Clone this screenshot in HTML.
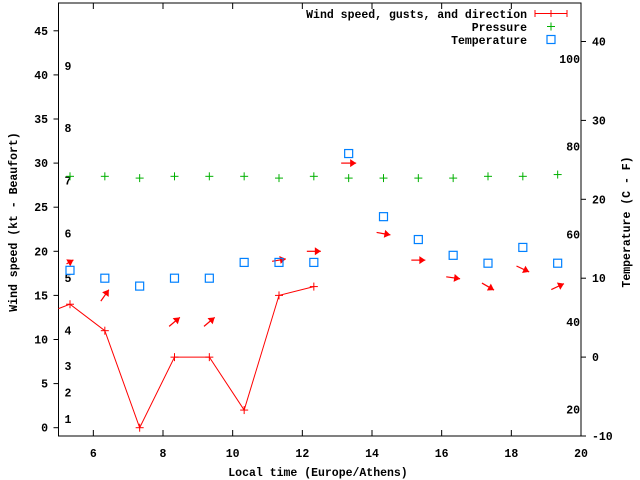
<!DOCTYPE html>
<html><head><meta charset="utf-8"><style>
body{margin:0;background:#fff}
svg{display:block}
text{font-family:"Liberation Mono",monospace;font-weight:bold;font-size:11.5px;fill:#000}
</style></head><body>
<svg id="c" width="640" height="480" xmlns="http://www.w3.org/2000/svg"></svg>
<script>
const times=[5.33,6.33,7.33,8.33,9.33,10.33,11.33,12.33,13.33,14.33,15.33,16.33,17.33,18.33,19.33];
const windSpeed=[14,11,0,8,8,2,15,16];
const windStart=13.5;
const pressure=[28.5,28.5,28.3,28.5,28.5,28.5,28.3,28.5,28.3,28.3,28.3,28.3,28.5,28.5,28.7];
const temperature=[11,10,9,10,10,12,12,12,25.8,17.8,14.9,12.9,11.9,13.9,11.9];
const gust=[18.8,15,null,12,12,null,19,20,30,22,19,17,16,18,16];
const windDir=[30,55,null,40,40,null,10,0,0,-10,0,-8,-30,-25,25];
const arrowLen=[8,14,0,14,14,0,14,14,15,14,14,14,14,14,14];
const xTicks=[6,8,10,12,14,16,18,20];
const yTicks=[0,5,10,15,20,25,30,35,40,45];
const y2Ticks=[-10,0,10,20,30,40];
const beaufortLabels=["1","2","3","4","5","6","7","8","9"];
const beaufortKt=[1,4,7,11,17,22,28,34,41];
const fLabels=[100,80,60,40,20];

const L=58.5,R=581,T=3,B=436;
const X=v=>L+(v-5)*(R-L)/15;
const Y=v=>427.7-v*8.82;
const Y2=v=>436-(v+10)*7.89;
const svg=document.getElementById('c');
const NS='http://www.w3.org/2000/svg';
function mk(tag,attrs,parent){const e=document.createElementNS(NS,tag);for(const k in attrs)e.setAttribute(k,attrs[k]);(parent||svg).appendChild(e);return e;}
function txt(x,y,s,anchor){const t=mk('text',{x:x,y:y,'text-anchor':anchor||'start'});t.textContent=s;return t;}

// frame
const fr=mk('rect',{x:L,y:T,width:R-L,height:B-T,fill:'none',stroke:'#000','stroke-width':1});



xTicks.forEach(v=>{
  const x=X(v);
  mk('line',{x1:x,y1:T,x2:x,y2:T+6,stroke:'#000'});
  mk('line',{x1:x,y1:B,x2:x,y2:B-6,stroke:'#000'});
  const t=txt(x,457,String(v),'middle');
  
  
});
yTicks.forEach(v=>{
  const y=Y(v);
  mk('line',{x1:L-5,y1:y,x2:L,y2:y,stroke:'#000'});
  const t=txt(48,y+4,String(v),'end');
  
  
});
y2Ticks.forEach(v=>{
  const y=Y2(v);
  mk('line',{x1:R,y1:y,x2:R+5,y2:y,stroke:'#000'});
  const t=txt(592,y+4,String(v),'start');
  
  
});
beaufortLabels.forEach((s,i)=>{
  const t=txt(68,Y(beaufortKt[i])+4,s,'middle');
  
  
});
fLabels.forEach(f=>{
  const c=(f-32)*5/9;
  const t=txt(580,Y2(c)+4,String(f),'end');
  
  
});

// axis titles
let t=txt(318,476,'Local time (Europe/Athens)','middle');


t=mk('text',{x:0,y:0,'text-anchor':'middle',transform:'translate(17,222) rotate(-90)'});t.textContent='Wind speed (kt - Beaufort)';


t=mk('text',{x:0,y:0,'text-anchor':'middle',transform:'translate(630,222) rotate(-90)'});t.textContent='Temperature (C - F)';



function plus(x,y,col,name){
  const g=mk('g',{stroke:col,'stroke-width':1});
  
  
  mk('line',{x1:x-4,y1:y,x2:x+4,y2:y},g);mk('line',{x1:x,y1:y-4,x2:x,y2:y+4},g);
}

// wind line
let pts=[[X(5),Y(windStart)]];
windSpeed.forEach((v,i)=>pts.push([X(times[i]),Y(v)]));
const wl=mk('polyline',{points:pts.map(p=>p.join(',')).join(' '),fill:'none',stroke:'#f00','stroke-width':1});


windSpeed.forEach((v,i)=>plus(X(times[i]),Y(v),'#f00','wind-point'));

// arrows
gust.forEach((g,i)=>{
  if(g===null)return;
  const a=windDir[i]*Math.PI/180,len=arrowLen[i];
  const cx=X(times[i]),cy=Y(g);
  const dx=Math.cos(a),dy=-Math.sin(a);
  const x1=cx-dx*len/2,y1=cy-dy*len/2,x2=cx+dx*len/2,y2=cy+dy*len/2;
  const grp=mk('g',{});
  
  
  mk('line',{x1:x1,y1:y1,x2:x2,y2:y2,stroke:'#f00','stroke-width':1.2},grp);
  const hl=6,hw=4,bx=x2-dx*hl,by=y2-dy*hl,px=-dy,py=dx;
  mk('polygon',{points:`${x2},${y2} ${bx+px*hw},${by+py*hw} ${bx-px*hw},${by-py*hw}`,fill:'#f00'},grp);
});

pressure.forEach((v,i)=>plus(X(times[i]),Y(v),'#00b000','pressure-point'));
temperature.forEach((v,i)=>{
  const r=mk('rect',{x:X(times[i])-4,y:Y2(v)-4,width:8,height:8,fill:'none',stroke:'#0080ff','stroke-width':1.2});
  
  
});

// legend
const lg=mk('g',{});


[['Wind speed, gusts, and direction',18],['Pressure',31],['Temperature',44]].forEach(([s,y])=>{
  const e=mk('text',{x:527,y:y,'text-anchor':'end'},lg);e.textContent=s;
  
  
});
mk('line',{x1:535,y1:13.5,x2:567,y2:13.5,stroke:'#f00'},lg);
mk('line',{x1:535,y1:10,x2:535,y2:17,stroke:'#f00'},lg);
mk('line',{x1:567,y1:10,x2:567,y2:17,stroke:'#f00'},lg);
mk('line',{x1:551,y1:10,x2:551,y2:17,stroke:'#f00'},lg);
plus(551,26.5,'#00b000','legend-pressure-marker');
mk('rect',{x:547,y:35.5,width:8,height:8,fill:'none',stroke:'#0080ff','stroke-width':1.2},lg);
</script>
</body></html>
